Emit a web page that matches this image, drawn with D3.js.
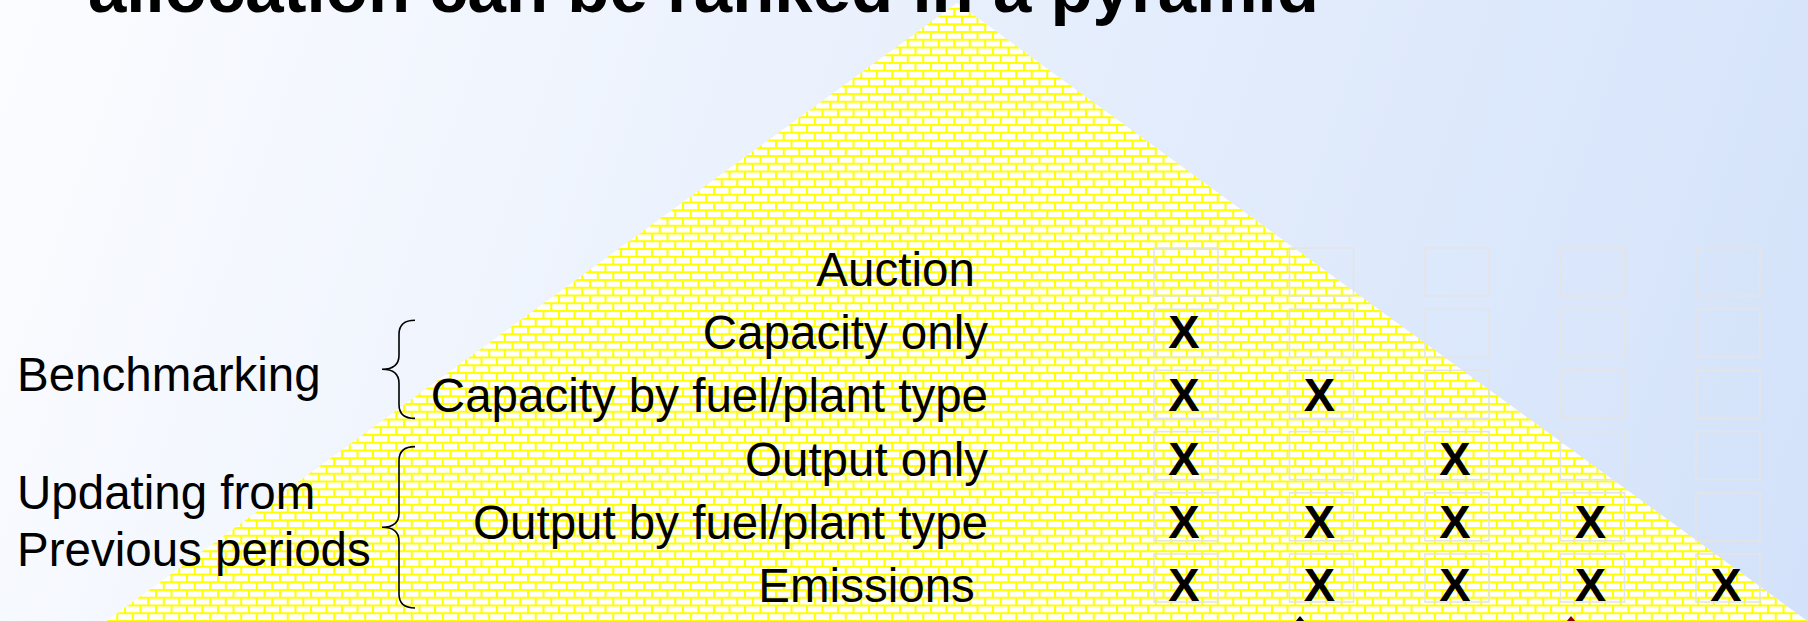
<!DOCTYPE html>
<html>
<head>
<meta charset="utf-8">
<script src="https://cdn.jsdelivr.net/npm/d3@7"></script>
<style>
  html, body { margin: 0; padding: 0; overflow: hidden; background: #ffffff; }
  svg { display: block; }
  text { font-family: "Liberation Sans", Arial, sans-serif; }
</style>
</head>
<body>
<svg id="chart" width="1808" height="621"></svg>
<script>
// ---------------- data ----------------
const titleText = "allocation can be ranked in a pyramid";
const rowLabels = ["Auction ", "Capacity only", "Capacity by fuel/plant type", "Output only", "Output by fuel/plant type", "Emissions "];
const columnIds = ["c1", "c2", "c3", "c4", "c5"];
// 1 = marked with an "X"
const markAuction      = [0, 0, 0, 0, 0];
const markCapOnly      = [1, 0, 0, 0, 0];
const markCapByFuel    = [1, 1, 0, 0, 0];
const markOutOnly      = [1, 0, 1, 0, 0];
const markOutByFuel    = [1, 1, 1, 1, 0];
const markEmissions    = [1, 1, 1, 1, 1];
const groupNames = [["Benchmarking"], ["Updating from", "Previous periods"]];
const groupFrom  = ["Capacity only", "Output only"];
const groupTo    = ["Capacity by fuel/plant type", "Emissions "];

const markRows = [markAuction, markCapOnly, markCapByFuel, markOutOnly, markOutByFuel, markEmissions];

// ---------------- layout ----------------
const W = 1808, H = 621;
const svg = d3.select("#chart");
const defs = svg.append("defs");

// background gradient
const bg = defs.append("linearGradient").attr("id", "bgGrad")
  .attr("gradientUnits", "userSpaceOnUse")
  .attr("x1", 0).attr("y1", 0).attr("x2", W).attr("y2", H);
bg.append("stop").attr("offset", "0%").attr("stop-color", "#fbfcff");
bg.append("stop").attr("offset", "100%").attr("stop-color", "#d3e2fa");
svg.append("rect").attr("width", W).attr("height", H).attr("fill", "url(#bgGrad)");

// brick pattern
const bw = 15.5, bh = 7.75, mortar = 2;
const pat = defs.append("pattern").attr("id", "bricks")
  .attr("patternUnits", "userSpaceOnUse")
  .attr("width", bw).attr("height", bh * 2);
pat.append("rect").attr("width", bw).attr("height", bh * 2).attr("fill", "#ffffff");
pat.append("rect").attr("x", 0).attr("y", 0).attr("width", bw).attr("height", mortar).attr("fill", "#ffff00");
pat.append("rect").attr("x", 0).attr("y", bh).attr("width", bw).attr("height", mortar).attr("fill", "#ffff00");
pat.append("rect").attr("x", 0).attr("y", 0).attr("width", mortar).attr("height", bh).attr("fill", "#ffff00");
pat.append("rect").attr("x", bw / 2).attr("y", bh).attr("width", mortar).attr("height", bh).attr("fill", "#ffff00");

// pyramid
const apex = [957, 3];
const slope = 1.376;
const baseY = H + 2;
svg.append("path")
  .attr("d", d3.line()([apex, [apex[0] - slope * (baseY - apex[1]), baseY], [apex[0] + slope * (baseY - apex[1]), baseY]]) + "Z")
  .attr("fill", "url(#bricks)");

// title (mostly cut off at the top)
svg.append("text")
  .attr("x", 88).attr("y", 12)
  .attr("font-size", 69).attr("font-weight", "bold")
  .attr("fill", "#000")
  .text(titleText);

// scales
const yLabel = d3.scalePoint().domain(rowLabels).range([270, 586]);
const yBox = d3.scalePoint().domain(rowLabels).range([272, 578]);
const xCol = d3.scalePoint().domain(columnIds).range([1186, 1728]);
const boxW = 64, boxH = 48;

// grid of boxes
const cells = [];
rowLabels.forEach((r, i) => columnIds.forEach((c, j) => cells.push({ row: r, col: c, v: markRows[i][j] })));

svg.append("g").selectAll("rect").data(cells).join("rect")
  .attr("x", d => xCol(d.col) - boxW / 2)
  .attr("y", d => yBox(d.row) - boxH / 2)
  .attr("width", boxW).attr("height", boxH)
  .attr("fill", "none")
  .attr("stroke", "#e4e4e6")
  .attr("stroke-width", 1.6);

svg.append("g").selectAll("text").data(cells.filter(d => d.v === 1)).join("text")
  .attr("x", d => xCol(d.col) - 2)
  .attr("y", d => yLabel(d.row) + 15)
  .attr("text-anchor", "middle")
  .attr("font-size", 47).attr("font-weight", "bold")
  .attr("fill", "#000")
  .text("X");

// row labels
svg.append("g").selectAll("text").data(rowLabels).join("text")
  .attr("x", 988)
  .attr("y", d => yLabel(d) + 16)
  .attr("text-anchor", "end")
  .attr("font-size", 47.5)
  .attr("fill", "#000")
  .style("white-space", "pre")
  .text(d => d);

// braces + group labels
const xe = 415, xm = 399, xt = 382, r = 14;
groupNames.forEach((lines, gi) => {
  const y0 = yLabel(groupFrom[gi]) - 13;
  const y1 = yLabel(groupTo[gi]) + 22;
  const ym = (y0 + y1) / 2;
  const p = d3.path();
  p.moveTo(xe, y0);
  p.quadraticCurveTo(xm, y0, xm, y0 + r);
  p.lineTo(xm, ym - r);
  p.quadraticCurveTo(xm, ym, xt, ym);
  p.quadraticCurveTo(xm, ym, xm, ym + r);
  p.lineTo(xm, y1 - r);
  p.quadraticCurveTo(xm, y1, xe, y1);
  svg.append("path").attr("d", p.toString())
    .attr("fill", "none").attr("stroke", "#000").attr("stroke-width", 1.6);

  const t = svg.append("text").attr("font-size", 47.5).attr("fill", "#000");
  lines.forEach((ln, k) => {
    t.append("tspan").attr("x", 17).attr("y", ym + 22 - (lines.length - 1) * 40 + k * 57).text(ln);
  });
});

// arrow tips peeking up from below
const tips = [{ x: 1300, c: "#000000" }, { x: 1571, c: "#8b0000" }];
svg.append("g").selectAll("path").data(tips).join("path")
  .attr("d", d => d3.line()([[d.x, H - 5], [d.x - 5, H + 1], [d.x + 5, H + 1]]) + "Z")
  .attr("fill", d => d.c);
</script>
</body>
</html>
